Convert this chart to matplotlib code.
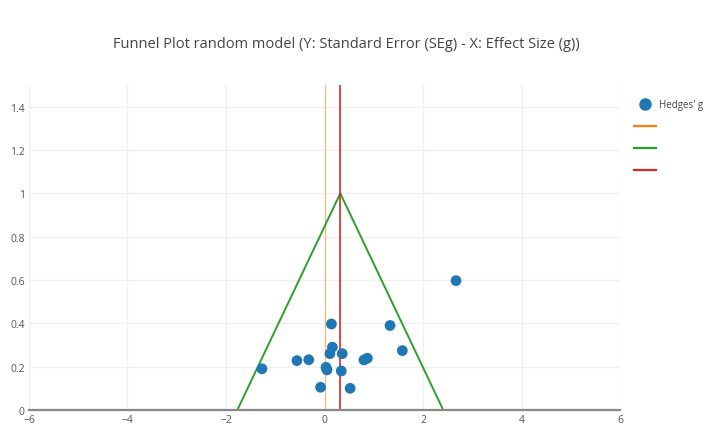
import matplotlib.pyplot as plt
from matplotlib.lines import Line2D
from matplotlib.ticker import FuncFormatter

# effect sizes (Hedges' g) and standard errors
g = [-1.27, -0.56, -0.32, 0.14, 0.16, 0.11, 0.03, 0.05, -0.08, 0.36, 0.34, 0.52,
     0.80, 0.87, 1.33, 1.58, 2.67]
se = [0.19, 0.228, 0.232, 0.397, 0.29, 0.26, 0.197, 0.185, 0.105, 0.26, 0.18, 0.10,
      0.231, 0.239, 0.39, 0.274, 0.597]

null_x = [0.02, 0.02]
null_y = [0, 1.5]
mean_x = [0.32, 0.32]
mean_y = [0, 1.5]
funnel_x = [-1.77, 0.32, 2.41]
funnel_y = [0, 1, 0]

plt.rcParams['font.family'] = ['Open Sans', 'DejaVu Sans']

fig = plt.figure(figsize=(7.07, 4.35), dpi=100)
ax = fig.add_axes([0.041, 0.0552, 0.836, 0.747])

ax.plot(null_x, null_y, color='#ff7f0e', lw=0.9, alpha=0.5, zorder=2)
ax.plot(funnel_x, funnel_y, color='#2ca02c', lw=1.4, zorder=2)
ax.plot(mean_x, mean_y, color='#d62728', lw=1.2, zorder=2)
ax.scatter(g, se, s=60, color='#1f77b4', edgecolors='none', zorder=3)

ax.set_xlim(-6, 6)
ax.set_ylim(0, 1.5)
ax.set_xticks(range(-6, 7, 2))
ax.set_yticks([0, 0.2, 0.4, 0.6, 0.8, 1, 1.2, 1.4])
ax.yaxis.set_major_formatter(FuncFormatter(lambda v, p: f"{v:g}"))
ax.xaxis.set_major_formatter(FuncFormatter(lambda v, p: f"{v:g}".replace('-', '\u2212')))
ax.grid(True, color='#f0f0f0', lw=1)
ax.set_axisbelow(True)
for s in ['top', 'right', 'left']:
    ax.spines[s].set_visible(False)
ax.spines['bottom'].set_color('#888888')
ax.spines['bottom'].set_linewidth(1.6)
ax.tick_params(length=0, labelsize=7.5, colors='#555555', pad=3)

fig.text(0.490, 0.897, "Funnel Plot random model (Y: Standard Error (SEg) - X: Effect Size (g))",
         ha='center', va='center', fontsize=10.5, color='#444444')

handles = [
    Line2D([], [], marker='o', ls='none', color='#1f77b4', markersize=8),
    Line2D([], [], color='#ff7f0e', lw=1.6),
    Line2D([], [], color='#2ca02c', lw=1.6),
    Line2D([], [], color='#d62728', lw=1.6),
]
fig.legend(handles, ["Hedges' g", "", "", ""], loc='upper left',
           bbox_to_anchor=(0.885, 0.79), frameon=False, fontsize=7,
           handlelength=2.2, labelspacing=1.15, handletextpad=0.3,
           labelcolor='#444444')

fig.savefig('out.png', dpi=100)
